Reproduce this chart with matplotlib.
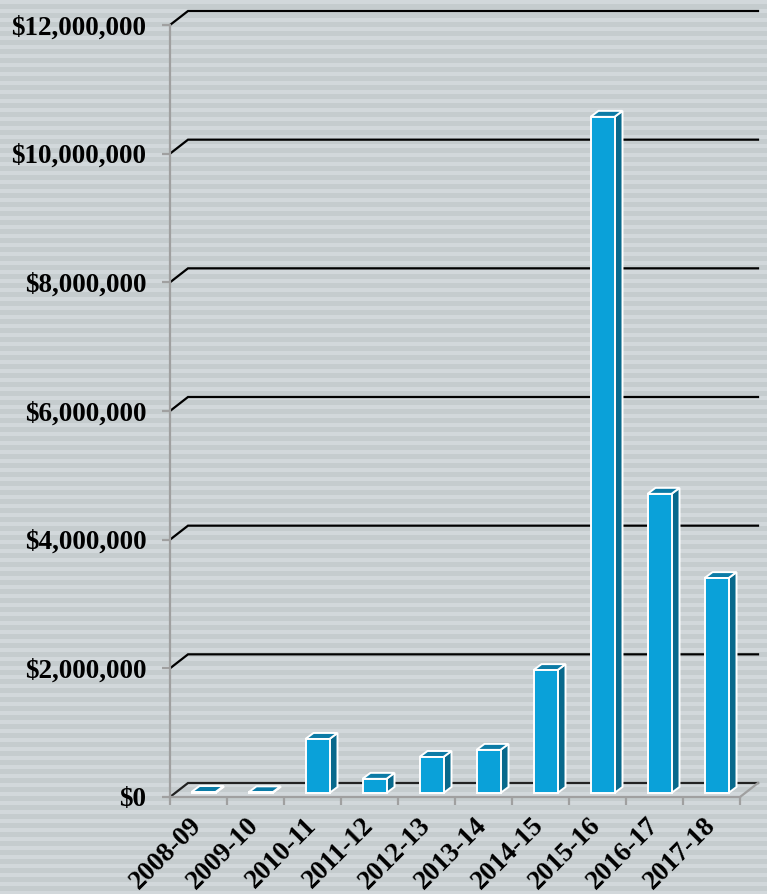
import numpy as np
import matplotlib
matplotlib.use('Agg')
import matplotlib.pyplot as plt
from matplotlib.patches import Polygon
from matplotlib.colors import ListedColormap

# funding by financial year
years = ['2008-09', '2009-10', '2010-11', '2011-12', '2012-13',
         '2013-14', '2014-15', '2015-16', '2016-17', '2017-18']
amounts = [15000, 10000, 840000, 220000, 560000,
           670000, 1910000, 10510000, 4650000, 3340000]
yticks = [0, 2000000, 4000000, 6000000, 8000000, 10000000, 12000000]

plt.rcParams['font.family'] = ['Liberation Serif', 'DejaVu Serif']
plt.rcParams['font.weight'] = 'bold'

W, H = 767, 894
fig = plt.figure(figsize=(W / 100, H / 100), dpi=100)

# striped backdrop
ax_bg = fig.add_axes((0, 0, 1, 1), zorder=-10)
rows = np.arange(H)
stripes = ((rows % 9) < 3.5).astype(float)[:, None]
ax_bg.imshow(stripes, cmap=ListedColormap(['#c5ccce', '#d2d8db']),
             aspect='auto', interpolation='nearest', extent=(0, 1, 0, 1))
ax_bg.axis('off')

# front plane of the plot area, in pixels
left, right, top, bottom = 170, 740, 25, 797
ax = fig.add_axes((left / W, 1 - bottom / H, (right - left) / W, (bottom - top) / H))
ax.patch.set_alpha(0)
ax.set_xlim(0, len(years))
ax.set_ylim(0, 12000000)

px_x = len(years) / (right - left)
px_y = 12000000 / (bottom - top)

# depth of the back wall
wx, wy = 18 * px_x, 14 * px_y
for v in yticks:
    ax.plot([0, wx, len(years) + wx], [v, v + wy, v + wy],
            c='k' if v > 0 else '#222222', lw=1.6, clip_on=False, zorder=1,
            solid_joinstyle='miter')
# right edge of the floor
ax.plot([len(years), len(years) + wx], [0, wy], c='#a0a0a0', lw=1.6,
        clip_on=False, zorder=1)

for s in ['top', 'right']:
    ax.spines[s].set_visible(False)
for s in ['left', 'bottom']:
    ax.spines[s].set_color('#a0a0a0')
    ax.spines[s].set_linewidth(1.6)
    ax.spines[s].set_zorder(2)

ax.set_yticks(yticks)
ax.set_yticklabels(['${:,.0f}'.format(v) for v in yticks])
ax.tick_params(axis='y', length=6, width=1.6, color='#a0a0a0', pad=11,
               labelsize=19.5)

ax.set_xticks(np.arange(len(years) + 1))
ax.set_xticklabels([])
ax.tick_params(axis='x', which='major', length=6, width=1.6, color='#a0a0a0')
ax.set_xticks(np.arange(len(years)) + 0.5, minor=True)
ax.set_xticklabels(years, minor=True)
ax.tick_params(axis='x', which='minor', length=0, pad=18, labelsize=19.5)
for lab in ax.get_xticklabels(minor=True):
    lab.set_rotation(45)
    lab.set_ha('right')
    lab.set_va('center')
    lab.set_rotation_mode('anchor')

# 3d columns: front face, side and top
front_c, side_c, top_c = '#0aa1d9', '#08698c', '#0b7ba6'
bw = 24 * px_x
bx, by = 5 * px_x, 4 * px_y
dx, dy = 8 * px_x, 6 * px_y
xs = np.arange(len(years)) + 0.5 + bx
ax.bar(xs, amounts, width=bw, bottom=by, color=front_c, edgecolor='white',
       lw=1.4, zorder=4)
for x, v in zip(xs, amounts):
    xl, xr = x - bw / 2, x + bw / 2
    y0, y1 = by, by + v
    side = Polygon([(xr, y0), (xr + dx, y0 + dy), (xr + dx, y1 + dy), (xr, y1)],
                   closed=True, fc=side_c, ec='white', lw=1.4, zorder=3)
    cap = Polygon([(xl, y1), (xl + dx, y1 + dy), (xr + dx, y1 + dy), (xr, y1)],
                  closed=True, fc=top_c, ec='white', lw=1.4, zorder=3)
    ax.add_patch(side)
    ax.add_patch(cap)

fig.savefig('out.png', dpi=100)
